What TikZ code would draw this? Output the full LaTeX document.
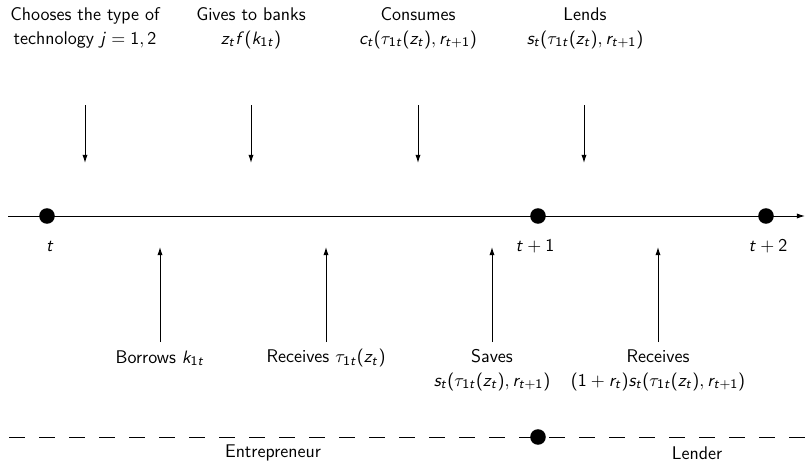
\documentclass[tikz,border=0pt]{standalone}
\usetikzlibrary{arrows.meta}
\DeclareSymbolFont{sfletters}{OT1}{cmss}{m}{sl}
\SetSymbolFont{operators}{normal}{OT1}{cmss}{m}{n}
\newcount\ltrcnt
\ltrcnt=97
\loop \Umathcode\ltrcnt=7 \symsfletters \ltrcnt \advance\ltrcnt by 1 \ifnum\ltrcnt<123 \repeat
\ltrcnt=65
\loop \Umathcode\ltrcnt=7 \symsfletters \ltrcnt \advance\ltrcnt by 1 \ifnum\ltrcnt<91 \repeat
\begin{document}
\begin{tikzpicture}[x=0.61pt,y=-0.61pt,
  font=\sffamily\fontsize{11.2}{14.6}\selectfont,
  tip/.style={-{Latex[length=5pt,width=3.2pt]}, line width=0.6pt},
  dotnode/.style={circle,fill=black,inner sep=0pt,minimum size=9.5pt},
  lbl/.style={align=center,inner sep=0pt}]
\useasboundingbox (0,0) rectangle (809,461);
% timeline
\coordinate (L0) at (8,216);
\coordinate (L1) at (805,216);
\draw[tip] (L0) -- (L1);
\node[dotnode] (d0) at (47,216) {};
\node[dotnode] (d1) at (538,216) {};
\node[dotnode] (d2) at (766,216) {};
\node[lbl] (lt0) at (50,246) {$t$};
\node[lbl] (lt1) at (535,246) {$t+1$};
\node[lbl] (lt2) at (768,246) {$t+2$};
% top texts
\node[lbl] (a1) at (85,28) {Chooses the type of\\technology $j=1,2$};
\node[lbl] (a2) at (251,28) {Gives to banks\\$z_tf(k_{1t})$};
\node[lbl] (a3) at (418,28) {Consumes\\$c_t(\tau_{1t}(z_t),r_{t+1})$};
\node[lbl] (a4) at (585,28) {Lends\\$s_t(\tau_{1t}(z_t),r_{t+1})$};
\coordinate (a1s) at (85,105); \coordinate (a1e) at (85,163);
\coordinate (a2s) at (251,105); \coordinate (a2e) at (251,163);
\coordinate (a3s) at (418,105); \coordinate (a3e) at (418,163);
\coordinate (a4s) at (584,105); \coordinate (a4e) at (584,163);
\draw[tip] (a1s) -- (a1e);
\draw[tip] (a2s) -- (a2e);
\draw[tip] (a3s) -- (a3e);
\draw[tip] (a4s) -- (a4e);
% bottom texts
\node[lbl] (b1) at (160,358) {Borrows $k_{1t}$};
\node[lbl] (b2) at (326,358) {Receives $\tau_{1t}(z_t)$};
\node[lbl] (b3) at (492,370) {Saves\\$s_t(\tau_{1t}(z_t),r_{t+1})$};
\node[lbl] (b4) at (658,370) {Receives\\$(1+r_t)s_t(\tau_{1t}(z_t),r_{t+1})$};
\coordinate (b1s) at (160,342); \coordinate (b1e) at (160,247);
\coordinate (b2s) at (326,342); \coordinate (b2e) at (326,247);
\coordinate (b3s) at (492,342); \coordinate (b3e) at (492,247);
\coordinate (b4s) at (658,342); \coordinate (b4e) at (658,247);
\draw[tip] (b1s) -- (b1e);
\draw[tip] (b2s) -- (b2e);
\draw[tip] (b3s) -- (b3e);
\draw[tip] (b4s) -- (b4e);
% dashed line
\coordinate (D0) at (9,437);
\coordinate (D1) at (809,437);
\draw[line width=0.6pt,dash pattern=on 9.8pt off 8.5pt] (D0) -- (D1);
\node[dotnode] (dd) at (538,437) {};
\node[lbl] (e1) at (273,453) {Entrepreneur};
\node[lbl] (e2) at (697,453) {Lender};
\end{tikzpicture}
\end{document}
